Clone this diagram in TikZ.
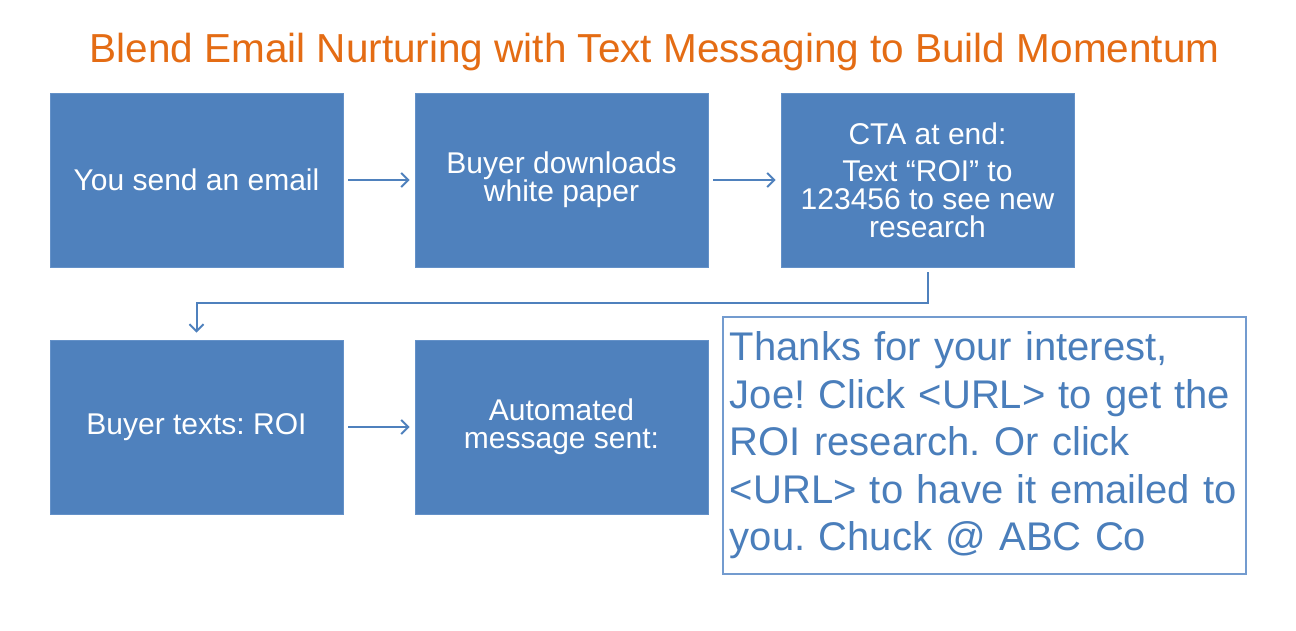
\documentclass[tikz,border=0pt]{standalone}
\usepackage{fontspec}
\setmainfont{Liberation Sans}
\frenchspacing
\usetikzlibrary{arrows.meta}
\definecolor{boxblue}{RGB}{79,129,189}
\definecolor{boxedge}{RGB}{100,145,200}
\definecolor{msgtext}{RGB}{74,126,187}
\definecolor{msgframe}{RGB}{115,155,207}
\definecolor{titleorange}{RGB}{228,108,20}
\tikzset{
  stepbox/.style={fill=boxblue, draw=boxedge, line width=0.8pt,
    minimum width=293pt, minimum height=174pt, inner sep=0pt,
    text=white, align=center, font=\fontsize{30}{28}\selectfont},
  msgbox/.style={draw=msgframe, line width=1.8pt, fill=white,
    minimum width=523pt, minimum height=257pt, inner xsep=7pt, inner ysep=0pt,
    text width=509pt, align=left, text=msgtext,
    font=\fontsize{40}{47.5}\selectfont},
  arr/.style={draw=boxblue, line width=2pt,
    -{Straight Barb[length=7pt,width=14pt,line width=2pt]}},
  titletext/.style={text=titleorange, inner sep=0pt, font=\fontsize{40.5}{48}\selectfont}
}
\begin{document}
\begin{tikzpicture}[x=1pt,y=-1pt]
\useasboundingbox (0,0) rectangle (1296,630);
\fill[white] (0,0) rectangle (1296,630);
\node[titletext, anchor=base] (title) at (654.5,62) {Blend Email Nurturing with Text Messaging to Build Momentum};
\node[stepbox] (b1) at (196.5,180) {You send an email};
\node[stepbox] (b2) at (561.5,180) {Buyer downloads\\white paper};
\node[stepbox] (b3) at (927.5,180) {CTA at end:\\[9pt]Text “ROI” to\\123456 to see new\\research};
\node[stepbox] (b4) at (196.5,427) {Buyer texts: ROI};
\node[stepbox] (b5) at (561.5,427) {Automated\\message sent:};
\node[msgbox, anchor=north west] (msg) at (722,316) {Thanks for your interest,\\Joe! Click <URL> to get the\\ROI research. Or click\\<URL> to have it emailed to\\you. Chuck @ ABC Co};
\draw[arr] ([xshift=5pt]b1.east) -- ([xshift=-5pt]b2.west);
\draw[arr] ([xshift=5pt]b2.east) -- ([xshift=-5pt]b3.west);
\draw[arr] ([xshift=5pt]b4.east) -- ([xshift=-5pt]b5.west);
\draw[arr] ([yshift=-5pt]b3.south) -- ++(0,31) -| ([yshift=7pt]b4.north);
\end{tikzpicture}
\end{document}
